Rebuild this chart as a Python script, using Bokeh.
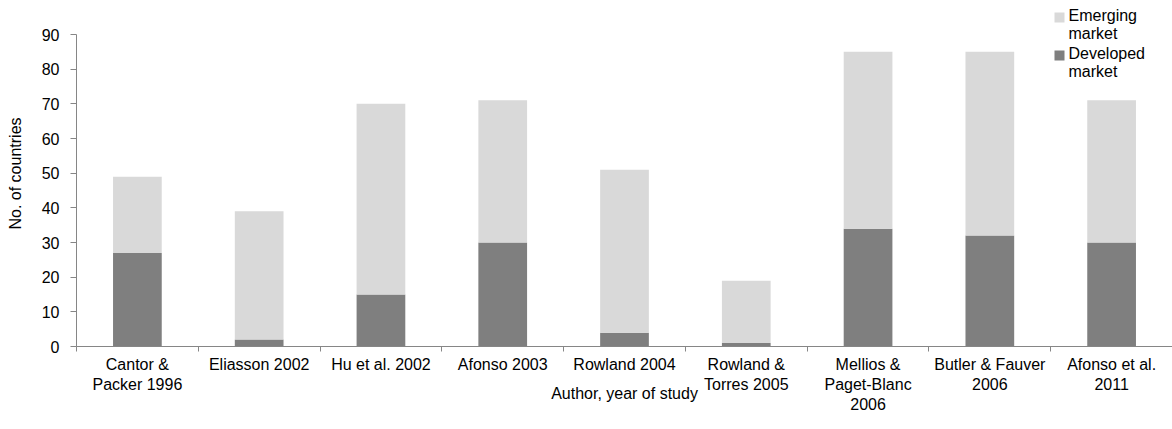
from bokeh.plotting import figure
from bokeh.models import Range1d, FixedTicker, Label, BoxAnnotation
from bokeh.embed import file_html
from bokeh.resources import INLINE

# Studies and country counts
studies = [
    "Cantor &\nPacker 1996",
    "Eliasson 2002",
    "Hu et al. 2002",
    "Afonso 2003",
    "Rowland 2004",
    "Rowland &\nTorres 2005",
    "Mellios &\nPaget-Blanc\n2006",
    "Butler & Fauver\n2006",
    "Afonso et al.\n2011",
]
total_countries = [49, 39, 70, 71, 51, 19, 85, 85, 71]
developed = [27, 2, 15, 30, 4, 1, 34, 32, 30]
emerging = [t - d for t, d in zip(total_countries, developed)]
y_ticks = [0, 10, 20, 30, 40, 50, 60, 70, 80, 90]
series_names = ["Emerging\nmarket", "Developed\nmarket"]

FONT = "Liberation Sans"
AXIS_GREY = "#868686"
DEV_COLOR = "#7f7f7f"
EMG_COLOR = "#d9d9d9"

n = len(studies)
centers = [i + 0.5 for i in range(n)]
data = dict(x=centers, developed=developed, emerging=emerging)

# The frame reaches the top edge so the legend can sit above the axis top;
# the y axis itself stops at 90.
FRAME_H = 346
AXIS_H = 312
y_top = 90 * FRAME_H / AXIS_H

p = figure(
    width=1172, height=429,
    x_range=Range1d(0, n), y_range=Range1d(0, y_top),
    output_backend="svg", toolbar_location=None,
    min_border_left=76, min_border_right=0,
    min_border_top=0, min_border_bottom=429 - FRAME_H,
)
p.outline_line_color = None
p.xgrid.visible = False
p.ygrid.visible = False

rs = p.vbar_stack(["developed", "emerging"], x="x", width=0.4,
                  color=[DEV_COLOR, EMG_COLOR], line_color=None, source=data)

# x axis: ticks between studies, labels under each bar
xa = p.xaxis[0]
xa.ticker = FixedTicker(ticks=centers, minor_ticks=list(range(n + 1)))
xa.major_label_overrides = {c: s for c, s in zip(centers, studies)}
xa.major_tick_out = 0
xa.major_tick_in = 0
xa.minor_tick_out = 5
xa.minor_tick_in = 0
xa.minor_tick_line_color = AXIS_GREY
xa.axis_line_color = AXIS_GREY
xa.major_label_text_font = FONT
xa.major_label_text_font_size = "16px"
xa.major_label_text_color = "#000000"
xa.major_label_standoff = 4
xa.axis_label = "Author, year of study"
xa.axis_label_text_font = FONT
xa.axis_label_text_font_size = "16px"
xa.axis_label_text_font_style = "normal"
xa.axis_label_text_color = "#000000"
xa.axis_label_standoff = -31

# y axis
ya = p.yaxis[0]
ya.bounds = (0, 90)
ya.ticker = FixedTicker(ticks=y_ticks, minor_ticks=[])
ya.major_tick_out = 6
ya.major_tick_in = 0
ya.major_tick_line_color = AXIS_GREY
ya.axis_line_color = AXIS_GREY
ya.major_label_text_font = FONT
ya.major_label_text_font_size = "16px"
ya.major_label_text_color = "#000000"
ya.major_label_standoff = 11
ya.axis_label = "No. of countries"
ya.axis_label_text_font = FONT
ya.axis_label_text_font_size = "16px"
ya.axis_label_text_font_style = "normal"
ya.axis_label_text_color = "#000000"
ya.axis_label_standoff = 15

# legend in the top-right corner: swatch beside the first line of each label
legend_colors = [EMG_COLOR, DEV_COLOR]
for i, (name, col) in enumerate(zip(series_names, legend_colors)):
    top = FRAME_H - 12 - 38 * i
    p.add_layout(BoxAnnotation(
        left=978, right=988, top=top, bottom=top - 10,
        left_units="screen", right_units="screen",
        top_units="screen", bottom_units="screen",
        fill_color=col, fill_alpha=1, line_color=None,
    ))
    p.add_layout(Label(
        x=992, y=top + 6, x_units="screen", y_units="screen",
        text=name, text_align="left", text_baseline="top",
        text_font=FONT, text_font_size="16px", text_color="#000000",
        text_line_height=1.06,
    ))

open("out.html", "w").write(file_html(p, INLINE))
